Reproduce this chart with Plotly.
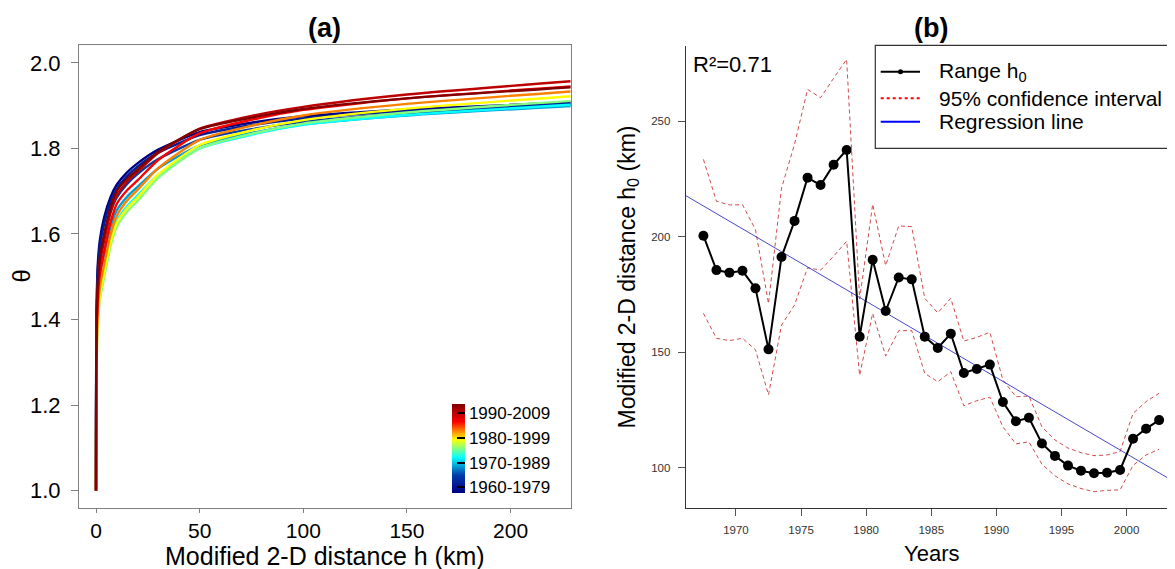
import plotly.graph_objects as go
from plotly.colors import sample_colorscale

# ---------------- panel (a) data ----------------
h_km = [0, 0.1, 0.5, 1, 2, 4, 7, 10, 15, 20, 30, 50, 75, 100, 150, 229]

theta_1960 = [1.0, 1.35, 1.48, 1.54, 1.59, 1.64, 1.686, 1.715, 1.744, 1.765, 1.797, 1.838, 1.860, 1.875, 1.891, 1.908]
theta_1963 = [1.0, 1.335, 1.465, 1.525, 1.575, 1.625, 1.674, 1.705, 1.735, 1.757, 1.790, 1.831, 1.854, 1.870, 1.887, 1.905]
theta_1966 = [1.0, 1.31, 1.44, 1.50, 1.55, 1.60, 1.652, 1.685, 1.717, 1.740, 1.775, 1.820, 1.845, 1.862, 1.882, 1.902]
theta_1969 = [1.0, 1.265, 1.395, 1.455, 1.505, 1.555, 1.616, 1.655, 1.687, 1.710, 1.753, 1.807, 1.836, 1.856, 1.877, 1.899]
theta_1972 = [1.0, 1.23, 1.36, 1.42, 1.47, 1.52, 1.587, 1.630, 1.665, 1.690, 1.738, 1.800, 1.832, 1.855, 1.878, 1.902]
theta_1975 = [1.0, 1.21, 1.34, 1.40, 1.45, 1.50, 1.571, 1.617, 1.652, 1.677, 1.731, 1.800, 1.834, 1.858, 1.884, 1.911]
theta_1978 = [1.0, 1.22, 1.35, 1.41, 1.46, 1.51, 1.580, 1.625, 1.660, 1.685, 1.739, 1.808, 1.842, 1.866, 1.893, 1.922]
theta_1981 = [1.0, 1.24, 1.37, 1.43, 1.48, 1.53, 1.598, 1.642, 1.678, 1.703, 1.754, 1.820, 1.853, 1.877, 1.904, 1.933]
theta_1984 = [1.0, 1.27, 1.40, 1.46, 1.51, 1.56, 1.627, 1.670, 1.702, 1.725, 1.773, 1.835, 1.867, 1.890, 1.917, 1.945]
theta_1987 = [1.0, 1.295, 1.425, 1.485, 1.535, 1.585, 1.649, 1.690, 1.722, 1.745, 1.789, 1.846, 1.876, 1.897, 1.926, 1.957]
theta_1990 = [1.0, 1.31, 1.44, 1.50, 1.55, 1.60, 1.661, 1.700, 1.729, 1.750, 1.792, 1.845, 1.872, 1.892, 1.917, 1.943]

window_start = [1960, 1963, 1966, 1969, 1972, 1975, 1978, 1981, 1984, 1987, 1990]
theta_curves = [theta_1960, theta_1963, theta_1966, theta_1969, theta_1972, theta_1975,
                theta_1978, theta_1981, theta_1984, theta_1987, theta_1990]

cbar_ticks = [1960, 1970, 1980, 1990]
cbar_labels = ["1960-1979", "1970-1989", "1980-1999", "1990-2009"]

# ---------------- panel (b) data ----------------
years = [1967.5, 1968.5, 1969.5, 1970.5, 1971.5, 1972.5, 1973.5, 1974.5, 1975.5, 1976.5,
         1977.5, 1978.5, 1979.5, 1980.5, 1981.5, 1982.5, 1983.5, 1984.5, 1985.5, 1986.5,
         1987.5, 1988.5, 1989.5, 1990.5, 1991.5, 1992.5, 1993.5, 1994.5, 1995.5, 1996.5,
         1997.5, 1998.5, 1999.5, 2000.5, 2001.5, 2002.5]
range_h0 = [200.4, 185.5, 184.4, 185.2, 177.6, 151.2, 191.2, 206.8, 225.5, 222.3,
            231.1, 237.5, 156.7, 190.0, 167.8, 182.3, 181.5, 156.7, 151.8, 158.0,
            141.0, 142.7, 144.6, 128.4, 120.1, 121.6, 110.5, 105.1, 100.9, 98.7,
            97.6, 97.8, 99.0, 112.5, 116.9, 120.6]
ci_upper = [233.4, 215.3, 213.7, 213.8, 203.0, 171.0, 221.0, 240.0, 263.7, 260.1,
            268.5, 276.7, 173.0, 214.0, 187.5, 204.6, 204.3, 173.3, 167.0, 173.3,
            154.8, 156.4, 158.6, 138.0, 130.7, 131.0, 117.7, 112.0, 108.5, 106.5,
            105.2, 105.5, 107.0, 123.5, 128.6, 132.2]
ci_lower = [166.8, 156.0, 155.0, 156.0, 151.0, 131.5, 161.7, 170.4, 186.5, 185.5,
            191.5, 198.0, 140.0, 166.8, 148.3, 159.3, 159.3, 140.8, 137.2, 141.5,
            126.8, 129.0, 130.5, 117.7, 110.3, 111.2, 101.5, 96.5, 93.0, 91.0,
            89.6, 90.2, 90.4, 101.0, 105.5, 108.0]
reg_intercept = 6706.0
reg_slope = -3.30
r2 = 0.71

legend_names = ["Range h<sub>0</sub>", "95% confidence interval", "Regression line"]

# page body has an 8px margin, so work in window pixels and shift
OFF = 8
W, H = 1175 - OFF, 569 - OFF
FONT = "Liberation Sans, Arial, sans-serif"


def fx(x):
    return (x - OFF) / W


def fy(y):
    return 1 - (y - OFF) / H


fig = go.Figure()

# --- (a) theta curves, blue first so the red ones sit on top ---
for start, th in zip(window_start, theta_curves):
    col = sample_colorscale("Jet", [(start - 1960) / 30])[0]
    fig.add_trace(go.Scatter(x=h_km, y=th, mode="lines",
                             line=dict(color=col, width=2.4, shape="spline", smoothing=0.6),
                             showlegend=False, hoverinfo="skip", xaxis="x", yaxis="y"))

# colour key
fig.add_trace(go.Scatter(
    x=[None], y=[None], mode="markers", showlegend=False, xaxis="x", yaxis="y",
    marker=dict(color=[1960], colorscale="Jet", cmin=1957.6, cmax=1993.6, showscale=True,
                colorbar=dict(x=fx(452.3), xanchor="left", y=fy(448.8), yanchor="middle",
                              len=89, lenmode="pixels", thickness=13, thicknessmode="pixels",
                              xpad=0, ypad=0, outlinewidth=0,
                              tickvals=cbar_ticks, ticktext=cbar_labels,
                              ticks="inside", ticklen=8, tickwidth=2, tickcolor="black",
                              tickfont=dict(size=17, family=FONT, color="black")))))

# --- (b) range h0 with confidence interval and regression ---
ci_style = dict(color="rgba(200,45,45,0.85)", width=1, dash="4px,3px")
fig.add_trace(go.Scatter(x=years, y=ci_upper, mode="lines", line=ci_style, showlegend=False,
                         xaxis="x2", yaxis="y2"))
fig.add_trace(go.Scatter(x=years, y=ci_lower, mode="lines", line=ci_style, showlegend=False,
                         xaxis="x2", yaxis="y2"))
reg_x = [1966.0, 2004.0]
reg_y = [reg_intercept + reg_slope * x for x in reg_x]
fig.add_trace(go.Scatter(x=reg_x, y=reg_y, mode="lines", line=dict(color="rgba(40,40,190,0.85)", width=1),
                         showlegend=False, xaxis="x2", yaxis="y2"))
fig.add_trace(go.Scatter(x=years, y=range_h0, mode="lines+markers",
                         line=dict(color="black", width=2), marker=dict(color="black", size=10),
                         showlegend=False, xaxis="x2", yaxis="y2"))

axis_a = dict(showline=True, mirror=True, linecolor="#808080", linewidth=1, ticks="outside",
              ticklen=7, tickcolor="#808080", showgrid=False, zeroline=False,
              tickfont=dict(size=22, family=FONT, color="black"))
axis_b = dict(showline=True, mirror=False, linecolor="#333333", linewidth=1, ticks="outside",
              ticklen=7, tickcolor="#555555", showgrid=False, zeroline=False,
              tickfont=dict(size=11.5, family=FONT, color="#333333"))

# --- legend box for (b), drawn by hand so it runs off the right edge like the original ---
leg_rows = [71.7, 98.3, 121.7]
shapes = [dict(type="rect", xref="paper", yref="paper", x0=fx(875.3), x1=1.02,
               y0=fy(148.3), y1=fy(45.3), line=dict(color="#333333", width=1.2))]
shapes.append(dict(type="line", xref="paper", yref="paper", x0=fx(880.7), x1=fx(920),
                   y0=fy(leg_rows[0]), y1=fy(leg_rows[0]), line=dict(color="black", width=2)))
shapes.append(dict(type="circle", xref="paper", yref="paper", fillcolor="black", line=dict(width=0),
                   x0=fx(898), x1=fx(903), y0=fy(leg_rows[0] + 2.5), y1=fy(leg_rows[0] - 2.5)))
shapes.append(dict(type="line", xref="paper", yref="paper", x0=fx(880.7), x1=fx(920),
                   y0=fy(leg_rows[1]), y1=fy(leg_rows[1]), line=dict(color="red", width=2, dash="dot")))
shapes.append(dict(type="line", xref="paper", yref="paper", x0=fx(880.7), x1=fx(920),
                   y0=fy(leg_rows[2]), y1=fy(leg_rows[2]), line=dict(color="blue", width=2)))

annotations = [
    dict(text="<b>(a)</b>", x=fx(324.9), y=fy(28)),
    dict(text="<b>(b)</b>", x=fx(931), y=fy(28)),
    dict(text="R²=" + str(r2), x=fx(692.4), y=fy(65), xanchor="left", font=dict(size=22)),
    dict(text="Modified 2-D distance h (km)", x=fx(324.9), y=fy(556), font=dict(size=25)),
    dict(text="θ", x=fx(21), y=fy(276.5), textangle=-90, font=dict(size=24)),
    dict(text="Years", x=fx(931), y=fy(553), font=dict(size=22)),
    dict(text="Modified 2-D distance h<sub>0</sub> (km)", x=fx(627.5), y=fy(277), textangle=-90,
         font=dict(size=23)),
]
for name, row in zip(legend_names, leg_rows):
    annotations.append(dict(text=name, x=fx(938.3), y=fy(row), xanchor="left", font=dict(size=21)))
for a in annotations:
    a.setdefault("xanchor", "center")
    a.setdefault("yanchor", "middle")
    a.setdefault("font", dict(size=27))
    a.update(xref="paper", yref="paper", showarrow=False, borderpad=0)

fig.update_layout(
    width=W, height=H, margin=dict(l=0, r=0, t=0, b=0),
    paper_bgcolor="white", plot_bgcolor="white", showlegend=False,
    font=dict(family=FONT, color="black"),
    xaxis=dict(axis_a, domain=[fx(79), fx(570.7)], range=[-8.2, 229], tickvals=[0, 50, 100, 150, 200],
               ticklen=4, tickfont=dict(size=21, family=FONT, color="black")),
    yaxis=dict(axis_a, domain=[fy(507.7), fy(45.3)], range=[0.960, 2.041],
               tickvals=[1.0, 1.2, 1.4, 1.6, 1.8, 2.0], tickformat=".1f", ticklabelstandoff=6),
    xaxis2=dict(axis_b, domain=[fx(685.7), 1.0], range=[1966.14, 2003.72], anchor="y2",
                tickvals=[1970, 1975, 1980, 1985, 1990, 1995, 2000], ticklabelstandoff=4),
    yaxis2=dict(axis_b, domain=[fy(508.3), fy(45.7)], range=[82.43, 282.6], anchor="x2",
                tickvals=[100, 150, 200, 250], ticklabelstandoff=5),
    shapes=shapes,
    annotations=annotations,
)

fig.write_html("out.html")
